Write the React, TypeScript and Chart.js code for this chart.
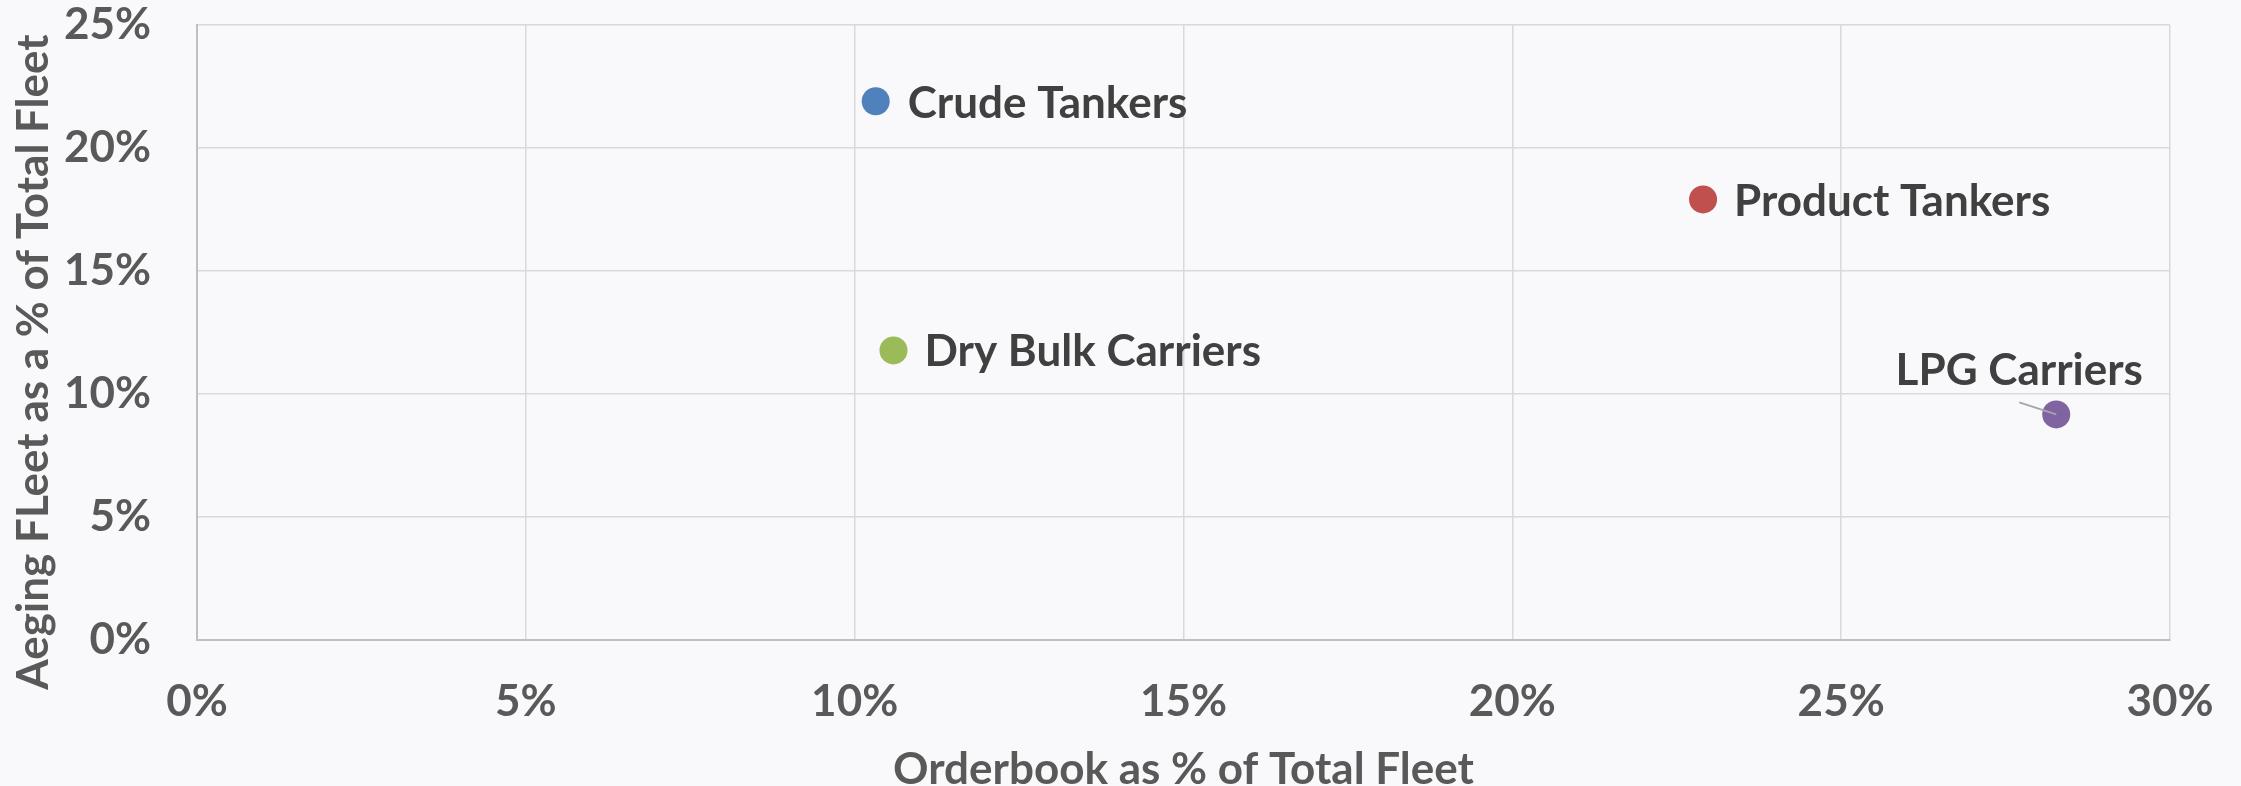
import React, { useEffect, useRef } from "react";
import { Chart, registerables } from "chart.js";

Chart.register(...registerables);

// ---- Data ----
const seriesNames = ["Crude Tankers", "Product Tankers", "Dry Bulk Carriers", "LPG Carriers"];
const orderbookPct = [10.32, 22.9, 10.59, 28.27]; // x: Orderbook as % of Total Fleet
const agingPct = [21.9, 17.91, 11.77, 9.17]; // y: Aging fleet as % of Total Fleet
const seriesColors = ["#4F81BD", "#C0504D", "#9BBB59", "#8064A2"];

const xTitle = "Orderbook as % of Total Fleet";
const yTitle = "Aeging FLeet as a % of Total Fleet";

// ---- Styling ----
const W = 2241;
const H = 786;
const FONT = "Lato";
const FS = 44;
const TICK_COLOR = "#595959";
const LABEL_COLOR = "#404040";

// label placement relative to each point (style, not data)
const labelPlacement = [
  { dx: 32, dy: 17, align: "left", leader: null },
  { dx: 31, dy: 17, align: "left", leader: null },
  { dx: 31, dy: 16, align: "left", leader: null },
  { dx: -37, dy: -29, align: "center", leader: [-37, -12] },
] as const;

const pointLabelPlugin = {
  id: "pointLabels",
  afterDatasetsDraw(chart: any) {
    const ctx: CanvasRenderingContext2D = chart.ctx;
    ctx.save();
    ctx.font = `bold ${FS}px ${FONT}`;
    ctx.fillStyle = LABEL_COLOR;
    chart.data.datasets.forEach((ds: any, i: number) => {
      const meta = chart.getDatasetMeta(i);
      const pt = meta.data[0];
      if (!pt) return;
      const o = labelPlacement[i];
      if (o.leader) {
        ctx.beginPath();
        ctx.strokeStyle = "#A6A6A6";
        ctx.lineWidth = 2;
        ctx.moveTo(pt.x + o.leader[0], pt.y + o.leader[1]);
        ctx.lineTo(pt.x, pt.y);
        ctx.stroke();
      }
      ctx.textAlign = o.align as CanvasTextAlign;
      ctx.textBaseline = "alphabetic";
      ctx.fillText(ds.label, pt.x + o.dx, pt.y + o.dy);
    });
    ctx.restore();
  },
};

const yTitlePlugin = {
  id: "yTitle",
  afterDraw(chart: any) {
    const ctx: CanvasRenderingContext2D = chart.ctx;
    ctx.save();
    ctx.font = `bold ${FS}px ${FONT}`;
    ctx.fillStyle = TICK_COLOR;
    ctx.translate(48, 362);
    ctx.rotate(-Math.PI / 2);
    ctx.textAlign = "center";
    ctx.textBaseline = "alphabetic";
    ctx.fillText(yTitle, 0, 0);
    ctx.restore();
  },
};

export default function App() {
  const ref = useRef<HTMLCanvasElement>(null);
  useEffect(() => {
    document.body.style.margin = "0";
    const canvas = ref.current!;
    const chart = new Chart(canvas, {
      type: "scatter",
      data: {
        datasets: seriesNames.map((name, i) => ({
          label: name,
          data: [{ x: orderbookPct[i], y: agingPct[i] }],
          backgroundColor: seriesColors[i],
          borderWidth: 0,
          pointRadius: 14,
          pointHoverRadius: 14,
        })),
      },
      options: {
        responsive: false,
        animation: false,
        layout: { padding: { top: 25, right: 71, left: 0, bottom: 0 } },
        plugins: {
          legend: { display: false },
          tooltip: { enabled: false },
        },
        scales: {
          x: {
            type: "linear",
            min: 0,
            max: 30,
            ticks: {
              stepSize: 5,
              callback: (v: any) => `${v}%`,
              font: { family: FONT, size: FS, weight: "bold" },
              color: TICK_COLOR,
              padding: 35,
              maxRotation: 0,
            },
            grid: { color: "#D9D9D9", lineWidth: 1.5, drawTicks: false },
            border: { color: "#BFBFBF", width: 2 },
            title: {
              display: true,
              text: xTitle,
              font: { family: FONT, size: FS, weight: "bold" },
              color: TICK_COLOR,
              padding: { top: 0, bottom: -10 },
            },
            afterFit: (s: any) => {
              s.height = H - 640;
              s.paddingLeft = 0;
              s.paddingRight = 0;
            },
          },
          y: {
            type: "linear",
            min: 0,
            max: 25,
            ticks: {
              stepSize: 5,
              callback: (v: any) => `${v}%`,
              font: { family: FONT, size: FS, weight: "bold" },
              color: TICK_COLOR,
              padding: 46,
            },
            grid: { color: "#D9D9D9", lineWidth: 1.5, drawTicks: false },
            border: { color: "#BFBFBF", width: 2 },
            afterFit: (s: any) => {
              s.width = 197;
              s.paddingTop = 0;
              s.paddingBottom = 0;
            },
          },
        },
      },
      plugins: [pointLabelPlugin, yTitlePlugin],
    });
    return () => chart.destroy();
  }, []);
  return (
    <div style={{ position: "absolute", left: 0, top: 0, width: W, height: H, background: "#F9F9FB" }}>
      <canvas ref={ref} width={W} height={H} style={{ display: "block" }} />
    </div>
  );
}
